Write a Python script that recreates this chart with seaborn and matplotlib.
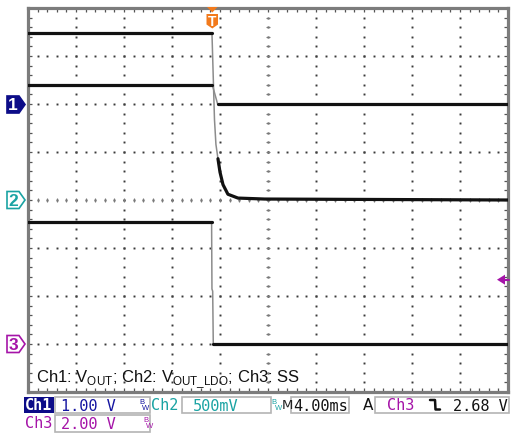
"""
Scope capture: VOUT / VOUT_LDO / SS shutdown transient
"""
import numpy as np
import pandas as pd
import matplotlib.pyplot as plt
import seaborn as sns
from matplotlib.patches import Polygon, Rectangle

sns.set_theme(style="white")
plt.rcParams["font.family"] = ["Liberation Sans", "DejaVu Sans"]
plt.rcParams["mathtext.fontset"] = "custom"
plt.rcParams["mathtext.rm"] = "Liberation Sans"

# horizontal: 4 ms/div, trigger at t = 0
ms_per_div = 4.0
t_left = -15.33
t_right = t_left + 10 * ms_per_div

# channel settings (volts/div, ground position in divisions from bottom)
ch1_scale, ch1_offset = 1.0, 6.0
ch2_scale, ch2_offset = 0.5, 4.0
ch3_scale, ch3_offset = 2.0, 1.0
trig_level = 2.68

# Ch1: VOUT
time_ch1 = [-15.33, 0.03, 0.47, 24.67]
volt_ch1 = [0.40, 0.40, 0.0, 0.0]
edge_ch1 = (1, 2)

# Ch2: VOUT_LDO
time_ch2 = [-15.33, 0.0, 0.21, 0.33, 0.50, 0.67, 0.92, 1.33, 2.17, 4.40, 24.67]
volt_ch2 = [1.74, 1.74, 0.84, 0.58, 0.43, 0.29, 0.16, 0.06, 0.02, 0.01, 0.0]
edge_ch2 = (1, 4)

# Ch3: SS
time_ch3 = [-15.33, -0.03, 0.0, 0.06, 0.11, 24.67]
volt_ch3 = [5.07, 5.07, 2.29, 2.20, 0.0, 0.0]
edge_ch3 = (1, 4)

W, H = 511, 435
fig = plt.figure(figsize=(W / 100, H / 100), dpi=100)
fig.patch.set_facecolor("white")

# graticule: x 28..508 px, y 9..393 px
ax = fig.add_axes([28 / W, (H - 393) / H, 480 / W, 384 / H])
ax.set_xlim(t_left, t_right)
ax.set_ylim(0, 8)
ax.set_facecolor("white")

grid_c = "#3a3a3a"
# dotted grid, 5 dots per division
for k in range(1, 10):
    xs = t_left + k * ms_per_div
    ys = np.arange(0, 8.01, 0.2)
    ax.plot(np.full_like(ys, xs), ys, ls="none", marker="s", ms=1.4, color=grid_c, mew=0)
for k in range(1, 8):
    xd = np.arange(0, 10.01, 0.2)
    ax.plot(t_left + xd * ms_per_div, np.full_like(xd, k), ls="none", marker="s", ms=1.4,
            color=grid_c, mew=0)
# centre cross ticks
xd = np.arange(0, 10.01, 0.2)
ax.plot(t_left + xd * ms_per_div, np.full_like(xd, 4), ls="none", marker="|", ms=3.5,
        color="#7a7a7a", mew=0.8)
yd = np.arange(0, 8.01, 0.2)
ax.plot(np.full_like(yd, t_left + 5 * ms_per_div), yd, ls="none", marker="_", ms=3.5,
        color="#7a7a7a", mew=0.8)

ax.set_xticks(t_left + np.arange(0, 10.01, 0.2) * ms_per_div)
ax.set_yticks(np.arange(0, 8.01, 0.2))
ax.tick_params(which="both", direction="in", length=3, width=0.9, color="#555555",
               top=True, right=True, bottom=True, left=True,
               labelbottom=False, labelleft=False)
for s in ax.spines.values():
    s.set_color("#7c7c7c")
    s.set_linewidth(2.3)


def draw_trace(times, volts, scale, offset, edge):
    df = pd.DataFrame({"t": times, "div": [v / scale + offset for v in volts]})
    i0, i1 = edge
    sns.lineplot(data=df, x="t", y="div", ax=ax, estimator=None, sort=False,
                 color="#8c8c8c", lw=1.1, zorder=3)
    sns.lineplot(data=df.iloc[:i0 + 1], x="t", y="div", ax=ax, estimator=None, sort=False,
                 color="#111111", lw=2.3, zorder=4)
    sns.lineplot(data=df.iloc[i1:], x="t", y="div", ax=ax, estimator=None, sort=False,
                 color="#111111", lw=2.3, zorder=4)


draw_trace(time_ch2, volt_ch2, ch2_scale, ch2_offset, edge_ch2)
draw_trace(time_ch1, volt_ch1, ch1_scale, ch1_offset, edge_ch1)
draw_trace(time_ch3, volt_ch3, ch3_scale, ch3_offset, edge_ch3)
ax.set_xlabel("")
ax.set_ylabel("")
ax.set_xlim(t_left, t_right)
ax.set_ylim(0, 8)

ax.text(t_left + 0.17 * ms_per_div, 0.28,
        r"Ch1: V$_{\rm OUT}$; Ch2: V$_{\rm OUT\_LDO}$; Ch3: SS",
        fontsize=12, color="#111111", va="center", ha="left", zorder=6)

# overlay in pixel coordinates for markers and readouts
ov = fig.add_axes([0, 0, 1, 1], zorder=5)
ov.set_xlim(0, W)
ov.set_ylim(H, 0)
ov.axis("off")
ov.patch.set_alpha(0)

navy = "#0c0c88"
teal = "#1aa3a3"
purple = "#a514a8"
orange = "#f27a1c"


def ch_marker(y, label, color, filled):
    pts = [(7, y - 8.5), (19, y - 8.5), (25, y), (19, y + 8.5), (7, y + 8.5)]
    ov.add_patch(Polygon(pts, closed=True, fc=color if filled else "white", ec=color, lw=1.2))
    ov.text(13, y + 0.5, label, color="white" if filled else color, fontsize=12.5,
            fontweight="bold", ha="center", va="center")


ch_marker(105.5, "1", navy, True)
ch_marker(201, "2", teal, False)
ch_marker(345, "3", purple, False)

# trigger position marker
ov.add_patch(Polygon([(207, 8), (217.5, 8), (212.3, 13.5)], closed=True, fc=orange, ec="none"))
ov.add_patch(Polygon([(206.5, 15), (218, 15), (218, 25.5), (212.3, 29.5), (206.5, 25.5)],
                     closed=True, fc=orange, ec="none"))
ov.text(212.3, 21.5, "T", color="white", fontsize=10, fontweight="bold", ha="center", va="center")

# trigger level marker
y_trig = 393 - (trig_level / ch3_scale + ch3_offset) * 48
ov.add_patch(Polygon([(497, y_trig), (505, y_trig - 5), (505, y_trig + 5)], closed=True,
                     fc=purple, ec="none"))
ov.plot([503, 509], [y_trig, y_trig], color=purple, lw=1.5)

# readout bar
mono = dict(family=["DejaVu Sans Mono"], fontsize=11, va="center")
box_ec = "#b4b4b4"


def box(x0, x1, y0, y1):
    ov.add_patch(Rectangle((x0, y0), x1 - x0, y1 - y0, fc="white", ec=box_ec, lw=1.2))


def bw(x, y, color):
    ov.text(x, y - 3.5, "B", color=color, fontsize=5.5, ha="left", va="center")
    ov.text(x + 3.2, y + 3, "W", color=color, fontsize=5.5, ha="left", va="center")


ov.add_patch(Rectangle((24, 397.5), 29.5, 16, fc=navy, ec="none"))
ov.text(25, 406, "Ch1", color="white", fontweight="bold", **mono)
box(55, 150, 398, 414)
ov.text(61, 406.5, "1.00 V", color="#1414a0", **mono)
bw(139, 406, "#1414a0")
ov.text(151, 406, "Ch2", color=teal, **mono)
box(182, 271, 398, 414)
ov.text(193, 406.5, "500mV", color=teal, **mono)
bw(271.5, 406, teal)
ov.text(281.5, 406, "M", color="#222222", family=["DejaVu Sans"], fontsize=9.5, va="center")
box(291, 349, 398, 414)
ov.text(293, 406.5, "4.00ms", color="#111111", **mono)
ov.text(363, 406, "A", color="#111111", family=["DejaVu Sans"], fontsize=11, va="center")
box(375, 509, 398, 414)
ov.text(387, 406, "Ch3", color=purple, **mono)
ov.plot([430, 435, 435.5, 440], [401, 401, 410.5, 410.5], color="#111111", lw=1.8)
ov.text(508, 406.5, "2.68 V", color="#111111", ha="right", **mono)

ov.text(25, 424, "Ch3", color=purple, **mono)
box(55, 150, 416, 432.5)
ov.text(61, 424.5, "2.00 V", color=purple, **mono)
bw(143, 424, purple)

fig.savefig("out.png", dpi=100, facecolor="white")
